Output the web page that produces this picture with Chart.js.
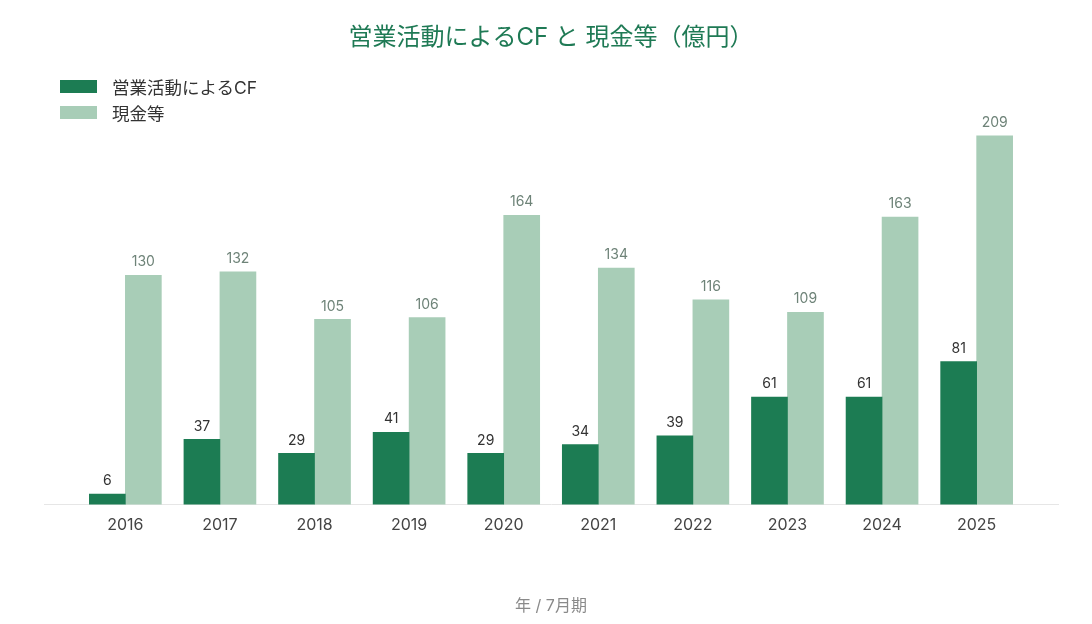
<!DOCTYPE html>
<html>
<head>
<meta charset="utf-8">
<script src="https://cdn.jsdelivr.net/npm/chart.js@4"></script>
<style>
  html, body { margin: 0; padding: 0; background: #fff; }
  #wrap { position: relative; width: 1092px; height: 624px; }
  #legend { position: absolute; left: 60px; top: 73px; font-family: Inter, "Noto Sans CJK JP", sans-serif; font-size: 17.5px; color: #333; }
  #legend .item { display: flex; align-items: center; height: 26px; }
  #legend .box { width: 37px; height: 13px; margin-right: 15px; }
</style>
</head>
<body>
<div id="wrap">
  <canvas id="c" width="1092" height="624"></canvas>
  <div id="legend"></div>
</div>
<script>
// --- données ---
const years = ['2016', '2017', '2018', '2019', '2020', '2021', '2022', '2023', '2024', '2025'];
const cfValues = [6, 37, 29, 41, 29, 34, 39, 61, 61, 81];
const cashValues = [130, 132, 105, 106, 164, 134, 116, 109, 163, 209];
const seriesNames = ['営業活動によるCF', '現金等'];
const seriesColors = ['#1c7c53', '#a8cdb7'];
const labelColors = ['#333333', '#6e8378'];

const FONT = 'Inter, "Noto Sans CJK JP", sans-serif';

// legende HTML (empilee verticalement)
const legendEl = document.getElementById('legend');
seriesNames.forEach((name, i) => {
    const item = document.createElement('div');
    item.className = 'item';
    item.innerHTML = '<span class="box" style="background:' + seriesColors[i] + '"></span><span>' + name + '</span>';
    legendEl.appendChild(item);
});

// etiquettes de valeur au-dessus des barres
const valueLabels = {
    id: 'valueLabels',
    afterDatasetsDraw(chart) {
        const ctx = chart.ctx;
        ctx.save();
        ctx.font = '14px ' + FONT;
        ctx.textAlign = 'center';
        ctx.textBaseline = 'bottom';
        chart.data.datasets.forEach((ds, di) => {
            ctx.fillStyle = labelColors[di];
            chart.getDatasetMeta(di).data.forEach((bar, i) => {
                ctx.fillText(ds.data[i].y, bar.x, bar.y - 6);
            });
        });
        ctx.restore();
    }
};

const toPoints = (arr) => arr.map((v, i) => ({ x: i, y: v }));

new Chart(document.getElementById('c'), {
    type: 'bar',
    data: {
        datasets: [
            { label: seriesNames[0], data: toPoints(cfValues), backgroundColor: seriesColors[0] },
            { label: seriesNames[1], data: toPoints(cashValues), backgroundColor: seriesColors[1] }
        ]
    },
    options: {
        responsive: false,
        animation: false,
        barThickness: 36,
        layout: { padding: { left: 44, right: 34, bottom: 8 } },
        plugins: {
            legend: { display: false },
            tooltip: { enabled: false },
            title: {
                display: true,
                text: '営業活動によるCF と 現金等（億円）',
                color: '#1f7a55',
                font: { family: FONT, size: 24, weight: 'normal' },
                padding: { top: 23, bottom: 47 }
            }
        },
        scales: {
            x: {
                type: 'linear',
                min: -0.86,
                max: 9.86,
                offset: false,
                grid: { display: false },
                border: { display: true, color: '#e6e6e6' },
                ticks: {
                    stepSize: 1,
                    autoSkip: false,
                    maxRotation: 0,
                    padding: 3,
                    color: '#444',
                    font: { family: FONT, size: 16 },
                    callback: (v) => (Number.isInteger(v) && years[v] !== undefined) ? years[v] : ''
                },
                title: {
                    display: true,
                    text: '年 / 7月期',
                    color: '#8a8a8a',
                    font: { family: FONT, size: 16 },
                    padding: { top: 59, bottom: 0 }
                }
            },
            y: {
                display: false,
                min: 0,
                max: 230
            }
        }
    },
    plugins: [valueLabels]
});
</script>
</body>
</html>
